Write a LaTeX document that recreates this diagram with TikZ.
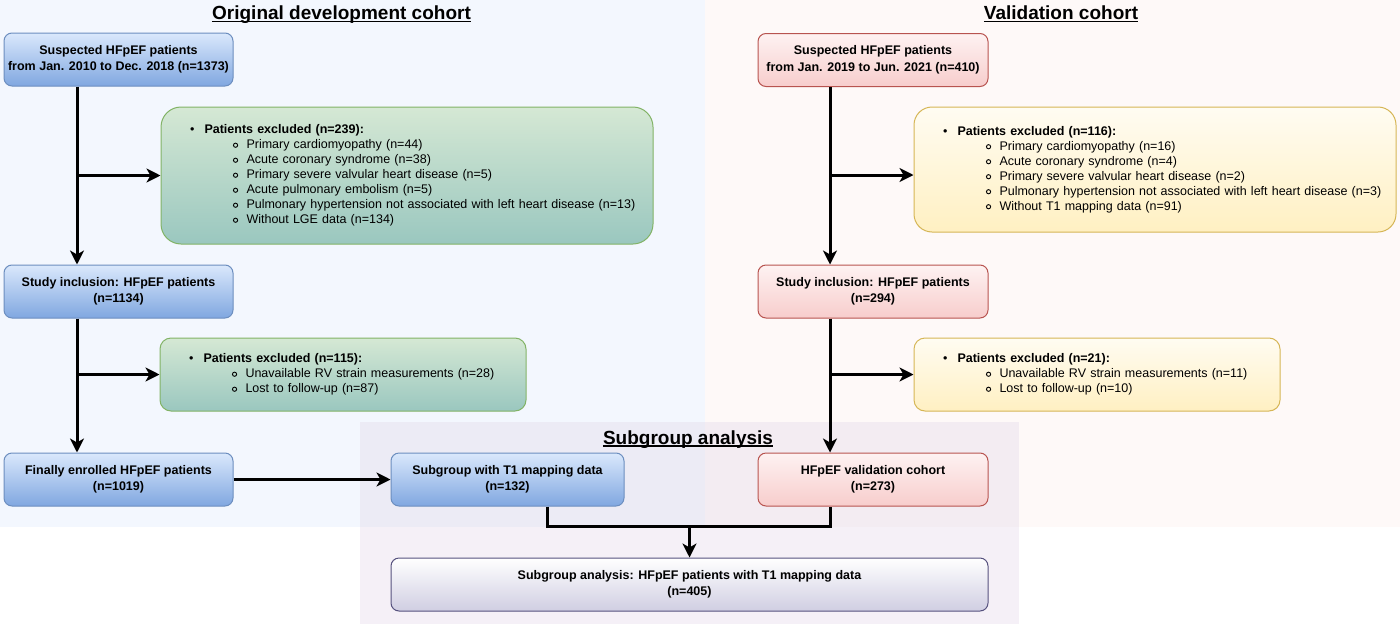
\documentclass[tikz,border=0pt]{standalone}
\usepackage{fontspec}
\setmainfont{Liberation Sans}
\usetikzlibrary{positioning,calc,arrows.meta}

\definecolor{bgDev}{HTML}{F3F7FE}
\definecolor{bgVal}{HTML}{FEF9F8}
\definecolor{bgSub}{HTML}{E1D5E7}
\definecolor{devTop}{HTML}{DAE8FC}
\definecolor{devBot}{HTML}{80A7E0}
\definecolor{devLine}{HTML}{6C8EBF}
\definecolor{valTop}{HTML}{FEF2F2}
\definecolor{valBot}{HTML}{F7CDCC}
\definecolor{valLine}{HTML}{B85450}
\definecolor{exgTop}{HTML}{D5E8D4}
\definecolor{exgBot}{HTML}{9AC7BF}
\definecolor{exgLine}{HTML}{82B366}
\definecolor{exyTop}{HTML}{FFFCF2}
\definecolor{exyBot}{HTML}{FFF0C2}
\definecolor{exyLine}{HTML}{D6B656}
\definecolor{allTop}{HTML}{FFFFFF}
\definecolor{allBot}{HTML}{D0CEE2}
\definecolor{allLine}{HTML}{56517E}

\newcommand\exhead[1]{\hspace*{29pt}\makebox[14.5pt][l]{\textbullet}\textbf{#1}}
\newcommand\ringbul{\tikz[baseline=-3.5pt]\draw[line width=0.9pt] (0,0) circle[radius=2.1pt];}
\newcommand\exitem[1]{\hspace*{72pt}\makebox[13.5pt][l]{\ringbul}#1}

\begin{document}
\begin{tikzpicture}[x=1pt, y=-1pt,
  box/.style={draw, line width=1pt, rounded corners=8pt, inner sep=0pt,
    minimum height=53pt, align=center,
    font=\fontsize{12.5}{16.5}\selectfont\bfseries},
  devbox/.style={box, draw=devLine, top color=devTop, bottom color=devBot},
  valbox/.style={box, draw=valLine, top color=valTop, bottom color=valBot},
  allbox/.style={box, draw=allLine, top color=allTop, bottom color=allBot},
  exbox/.style={draw, line width=1pt, inner sep=0pt, align=left,
    font=\fontsize{12.5}{15}\selectfont},
  exgreen/.style={exbox, draw=exgLine, top color=exgTop, bottom color=exgBot},
  exyellow/.style={exbox, draw=exyLine, top color=exyTop, bottom color=exyBot},
  heading/.style={font=\fontsize{19}{22}\selectfont\bfseries, anchor=base, inner sep=0pt},
  underbar/.style={line width=1.3pt},
  flow/.style={line width=3pt, -{Stealth[length=14pt,width=14pt,inset=4pt]}},
  link/.style={line width=3pt},
]
  \useasboundingbox (0,0) rectangle (1400,624);

  % achtergronden
  \fill[bgDev] (0,0) rectangle (705,527);
  \fill[bgVal] (705,0) rectangle (1400,527);
  \fill[bgSub, fill opacity=0.35] (360,422) rectangle (1019,624);

  % titels
  \node[heading] (tDev) at (341.5,19.5) {Original development cohort};
  \node[heading] (tVal) at (1061,19.5) {Validation cohort};
  \node[heading] (tSub) at (688,444) {Subgroup analysis};
  \foreach \t in {tDev,tVal,tSub}
    \draw[underbar] ([yshift=-1.9pt]\t.base west) -- ([yshift=-1.9pt]\t.base east);

  % ontwikkelcohort
  \node[devbox, minimum width=229pt] (susD) at (118.5,59.5)
    {Suspected HFpEF patients\\from Jan. 2010 to Dec. 2018 (n=1373)};
  \node[exgreen, text width=492pt, minimum height=137pt, rounded corners=20pt] (exD1) at (407,175.5)
    {\exhead{Patients excluded (n=239):}\\
     \exitem{Primary cardiomyopathy (n=44)}\\
     \exitem{Acute coronary syndrome (n=38)}\\
     \exitem{Primary severe valvular heart disease (n=5)}\\
     \exitem{Acute pulmonary embolism (n=5)}\\
     \exitem{Pulmonary hypertension not associated with left heart disease (n=13)}\\
     \exitem{Without LGE data (n=134)}};
  \node[devbox, minimum width=229pt] (incD) at (118.5,291.5)
    {Study inclusion: HFpEF patients\\(n=1134)};
  \node[exgreen, text width=366pt, minimum height=73pt, rounded corners=11pt] (exD2) at (343,374.5)
    {\exhead{Patients excluded (n=115):}\\
     \exitem{Unavailable RV strain measurements (n=28)}\\
     \exitem{Lost to follow-up (n=87)}};
  \node[devbox, minimum width=229pt] (finD) at (118.5,479.5)
    {Finally enrolled HFpEF patients\\(n=1019)};
  \node[devbox, minimum width=233pt] (subT1) at (507.5,479.5)
    {Subgroup with T1 mapping data\\(n=132)};

  % validatiecohort
  \node[valbox, minimum width=230pt] (susV) at (873,60)
    {Suspected HFpEF patients\\from Jan. 2019 to Jun. 2021 (n=410)};
  \node[exyellow, text width=482pt, minimum height=125pt, rounded corners=18pt] (exV1) at (1155,169.5)
    {\exhead{Patients excluded (n=116):}\\
     \exitem{Primary cardiomyopathy (n=16)}\\
     \exitem{Acute coronary syndrome (n=4)}\\
     \exitem{Primary severe valvular heart disease (n=2)}\\
     \exitem{Pulmonary hypertension not associated with left heart disease (n=3)}\\
     \exitem{Without T1 mapping data (n=91)}};
  \node[valbox, minimum width=230pt] (incV) at (873,291.5)
    {Study inclusion: HFpEF patients\\(n=294)};
  \node[exyellow, text width=366pt, minimum height=73pt, rounded corners=11pt] (exV2) at (1097,374.5)
    {\exhead{Patients excluded (n=21):}\\
     \exitem{Unavailable RV strain measurements (n=11)}\\
     \exitem{Lost to follow-up (n=10)}};
  \node[valbox, minimum width=230pt] (valV) at (873,479.5)
    {HFpEF validation cohort\\(n=273)};

  % subgroep
  \node[allbox, minimum width=597pt] (subAll) at (689.5,584.5)
    {Subgroup analysis: HFpEF patients with T1 mapping data\\(n=405)};

  % verbindingen
  \coordinate (colD) at (77,0);
  \coordinate (colV) at (830,0);
  \coordinate (forkD) at (77,175.5);
  \coordinate (forkV) at (830,175);
  \coordinate (tapS) at (547,0);
  \coordinate (mrg) at (689.5,526);

  \draw[flow] (susD.south -| colD) -- (incD.north -| colD);
  \draw[flow] (forkD) -- (forkD -| exD1.west);
  \draw[flow] (incD.south -| colD) -- (finD.north -| colD);
  \draw[flow] (colD |- exD2.west) -- (exD2.west);
  \draw[flow] (finD.east) -- (subT1.west);

  \draw[flow] (susV.south -| colV) -- (incV.north -| colV);
  \draw[flow] (forkV) -- (forkV -| exV1.west);
  \draw[flow] (incV.south -| colV) -- (valV.north -| colV);
  \draw[flow] (colV |- exV2.west) -- (exV2.west);

  \draw[link] (subT1.south -| tapS) |- (mrg) -| (valV.south -| colV);
  \draw[flow] (mrg) -- (subAll.north);
\end{tikzpicture}
\end{document}
